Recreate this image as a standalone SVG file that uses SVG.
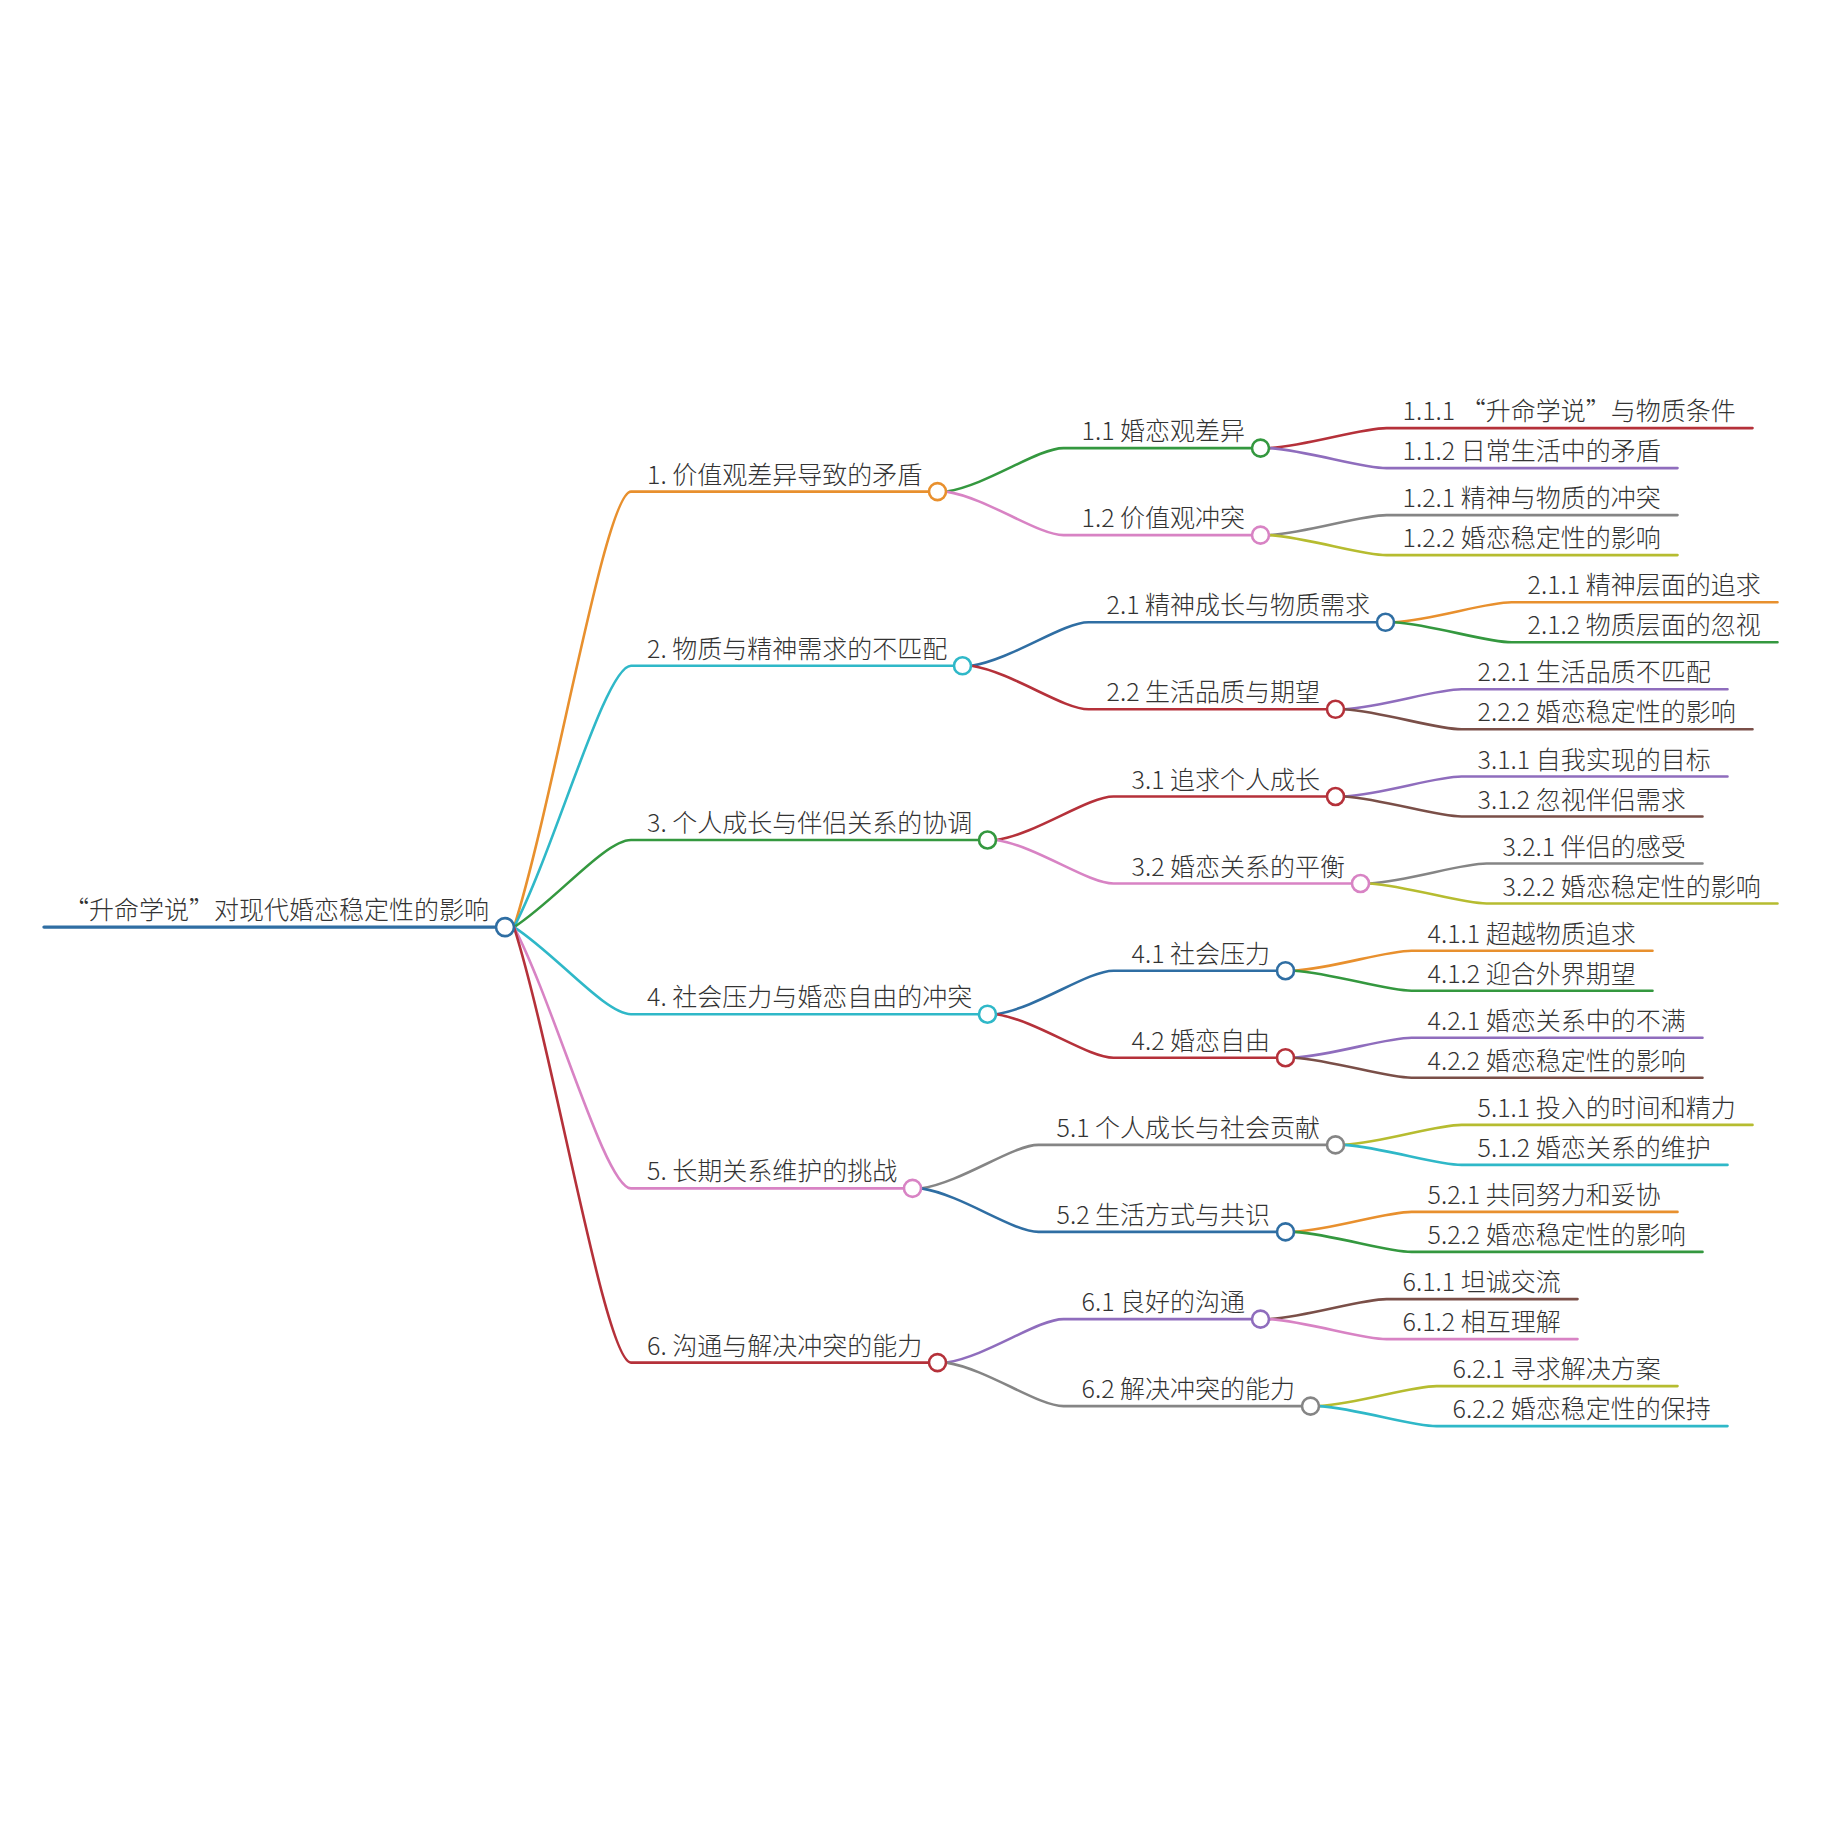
<svg xmlns="http://www.w3.org/2000/svg" width="1824" height="1824" viewBox="0 0 1824 1824">
<style>
text{font-family:"Noto Sans CJK SC","Noto Sans",sans-serif;font-weight:300;font-size:25px;fill:#333333}
.e{fill:none;stroke-width:2.6;stroke-linecap:round}
.n{fill:#ffffff;stroke-width:2.6}
.blue{stroke:#2f6ea3}.orange{stroke:#e8902e}.cyan{stroke:#2fb8c8}.green{stroke:#34983f}
.pink{stroke:#d883c4}.red{stroke:#b5313a}.purple{stroke:#8f6dbd}.gray{stroke:#858585}
.yg{stroke:#b6bc30}.brown{stroke:#7a4f48}
</style>
<rect width="1824" height="1824" fill="#ffffff"/>
<g id="connectors">
<path class="e blue" style="stroke-width:3.4" d="M44,927.1 H505"/>
<path class="e orange" d="M514,927.1 c40.95,-130.65 91.26,-435.5 117,-435.5 H937.5"/>
<path class="e cyan" d="M514,927.1 c40.95,-78.39 91.26,-261.3 117,-261.3 H962.5"/>
<path class="e green" d="M514,927.1 c40.95,-26.13 91.26,-87.1 117,-87.1 H987.5"/>
<path class="e cyan" d="M514,927.1 c40.95,26.13 91.26,87.1 117,87.1 H987.5"/>
<path class="e pink" d="M514,927.1 c40.95,78.39 91.26,261.3 117,261.3 H912.5"/>
<path class="e red" d="M514,927.1 c40.95,130.65 91.26,435.5 117,435.5 H937.5"/>

<path class="e green" d="M946.5,491.6 c40.95,-6.53 91.26,-43.5 117,-43.5 H1260.5"/>
<path class="e pink" d="M946.5,491.6 c40.95,6.53 91.26,43.5 117,43.5 H1260.5"/>
<path class="e blue" d="M971.5,665.8 c40.95,-6.53 91.26,-43.5 117,-43.5 H1385.5"/>
<path class="e red" d="M971.5,665.8 c40.95,6.53 91.26,43.5 117,43.5 H1335.5"/>
<path class="e red" d="M996.5,840 c40.95,-6.53 91.26,-43.5 117,-43.5 H1335.5"/>
<path class="e pink" d="M996.5,840 c40.95,6.53 91.26,43.5 117,43.5 H1360.5"/>
<path class="e blue" d="M996.5,1014.2 c40.95,-6.53 91.26,-43.5 117,-43.5 H1285.5"/>
<path class="e red" d="M996.5,1014.2 c40.95,6.53 91.26,43.5 117,43.5 H1285.5"/>
<path class="e gray" d="M921.5,1188.4 c40.95,-6.53 91.26,-43.5 117,-43.5 H1335.5"/>
<path class="e blue" d="M921.5,1188.4 c40.95,6.53 91.26,43.5 117,43.5 H1285.5"/>
<path class="e purple" d="M946.5,1362.6 c40.95,-6.53 91.26,-43.5 117,-43.5 H1260.5"/>
<path class="e gray" d="M946.5,1362.6 c40.95,6.53 91.26,43.5 117,43.5 H1310.5"/>

<path class="e red" d="M1269.5,448.1 c40.95,-3 91.26,-20 117,-20 H1752.5"/>
<path class="e purple" d="M1269.5,448.1 c40.95,3 91.26,20 117,20 H1677.5"/>
<path class="e gray" d="M1269.5,535.1 c40.95,-3 91.26,-20 117,-20 H1677.5"/>
<path class="e yg" d="M1269.5,535.1 c40.95,3 91.26,20 117,20 H1677.5"/>
<path class="e orange" d="M1394.5,622.3 c40.95,-3 91.26,-20 117,-20 H1777.5"/>
<path class="e green" d="M1394.5,622.3 c40.95,3 91.26,20 117,20 H1777.5"/>
<path class="e purple" d="M1344.5,709.3 c40.95,-3 91.26,-20 117,-20 H1727.5"/>
<path class="e brown" d="M1344.5,709.3 c40.95,3 91.26,20 117,20 H1752.5"/>
<path class="e purple" d="M1344.5,796.5 c40.95,-3 91.26,-20 117,-20 H1727.5"/>
<path class="e brown" d="M1344.5,796.5 c40.95,3 91.26,20 117,20 H1702.5"/>
<path class="e gray" d="M1369.5,883.5 c40.95,-3 91.26,-20 117,-20 H1702.5"/>
<path class="e yg" d="M1369.5,883.5 c40.95,3 91.26,20 117,20 H1777.5"/>
<path class="e orange" d="M1294.5,970.7 c40.95,-3 91.26,-20 117,-20 H1652.5"/>
<path class="e green" d="M1294.5,970.7 c40.95,3 91.26,20 117,20 H1652.5"/>
<path class="e purple" d="M1294.5,1057.7 c40.95,-3 91.26,-20 117,-20 H1702.5"/>
<path class="e brown" d="M1294.5,1057.7 c40.95,3 91.26,20 117,20 H1702.5"/>
<path class="e yg" d="M1344.5,1144.9 c40.95,-3 91.26,-20 117,-20 H1752.5"/>
<path class="e cyan" d="M1344.5,1144.9 c40.95,3 91.26,20 117,20 H1727.5"/>
<path class="e orange" d="M1294.5,1231.9 c40.95,-3 91.26,-20 117,-20 H1677.5"/>
<path class="e green" d="M1294.5,1231.9 c40.95,3 91.26,20 117,20 H1702.5"/>
<path class="e brown" d="M1269.5,1319.1 c40.95,-3 91.26,-20 117,-20 H1577.5"/>
<path class="e pink" d="M1269.5,1319.1 c40.95,3 91.26,20 117,20 H1577.5"/>
<path class="e yg" d="M1319.5,1406.1 c40.95,-3 91.26,-20 117,-20 H1677.5"/>
<path class="e cyan" d="M1319.5,1406.1 c40.95,3 91.26,20 117,20 H1727.5"/>
</g>

<g id="root"><text x="64" y="919.1">“升命学说”对现代婚恋稳定性的影响</text><circle class="n blue" cx="505" cy="927.1" r="9"/></g>

<g id="n1"><text x="647" y="483.6">1. 价值观差异导致的矛盾</text><circle class="n orange" cx="937.5" cy="491.6" r="8.5"/></g>
<g id="n1-1"><text x="1081.5" y="440.1">1.1 婚恋观差异</text><circle class="n green" cx="1260.5" cy="448.1" r="8.5"/></g>
<g id="n1-1-1"><text x="1402.5" y="420.1">1.1.1 “升命学说”与物质条件</text></g>
<g id="n1-1-2"><text x="1402.5" y="460.1">1.1.2 日常生活中的矛盾</text></g>
<g id="n1-2"><text x="1081.5" y="527.1">1.2 价值观冲突</text><circle class="n pink" cx="1260.5" cy="535.1" r="8.5"/></g>
<g id="n1-2-1"><text x="1402.5" y="507.1">1.2.1 精神与物质的冲突</text></g>
<g id="n1-2-2"><text x="1402.5" y="547.1">1.2.2 婚恋稳定性的影响</text></g>

<g id="n2"><text x="647" y="657.8">2. 物质与精神需求的不匹配</text><circle class="n cyan" cx="962.5" cy="665.8" r="8.5"/></g>
<g id="n2-1"><text x="1106.5" y="614.3">2.1 精神成长与物质需求</text><circle class="n blue" cx="1385.5" cy="622.3" r="8.5"/></g>
<g id="n2-1-1"><text x="1527.5" y="594.3">2.1.1 精神层面的追求</text></g>
<g id="n2-1-2"><text x="1527.5" y="634.3">2.1.2 物质层面的忽视</text></g>
<g id="n2-2"><text x="1106.5" y="701.3">2.2 生活品质与期望</text><circle class="n red" cx="1335.5" cy="709.3" r="8.5"/></g>
<g id="n2-2-1"><text x="1477.5" y="681.3">2.2.1 生活品质不匹配</text></g>
<g id="n2-2-2"><text x="1477.5" y="721.3">2.2.2 婚恋稳定性的影响</text></g>

<g id="n3"><text x="647" y="832">3. 个人成长与伴侣关系的协调</text><circle class="n green" cx="987.5" cy="840" r="8.5"/></g>
<g id="n3-1"><text x="1131.5" y="788.5">3.1 追求个人成长</text><circle class="n red" cx="1335.5" cy="796.5" r="8.5"/></g>
<g id="n3-1-1"><text x="1477.5" y="768.5">3.1.1 自我实现的目标</text></g>
<g id="n3-1-2"><text x="1477.5" y="808.5">3.1.2 忽视伴侣需求</text></g>
<g id="n3-2"><text x="1131.5" y="875.5">3.2 婚恋关系的平衡</text><circle class="n pink" cx="1360.5" cy="883.5" r="8.5"/></g>
<g id="n3-2-1"><text x="1502.5" y="855.5">3.2.1 伴侣的感受</text></g>
<g id="n3-2-2"><text x="1502.5" y="895.5">3.2.2 婚恋稳定性的影响</text></g>

<g id="n4"><text x="647" y="1006.2">4. 社会压力与婚恋自由的冲突</text><circle class="n cyan" cx="987.5" cy="1014.2" r="8.5"/></g>
<g id="n4-1"><text x="1131.5" y="962.7">4.1 社会压力</text><circle class="n blue" cx="1285.5" cy="970.7" r="8.5"/></g>
<g id="n4-1-1"><text x="1427.5" y="942.7">4.1.1 超越物质追求</text></g>
<g id="n4-1-2"><text x="1427.5" y="982.7">4.1.2 迎合外界期望</text></g>
<g id="n4-2"><text x="1131.5" y="1049.7">4.2 婚恋自由</text><circle class="n red" cx="1285.5" cy="1057.7" r="8.5"/></g>
<g id="n4-2-1"><text x="1427.5" y="1029.7">4.2.1 婚恋关系中的不满</text></g>
<g id="n4-2-2"><text x="1427.5" y="1069.7">4.2.2 婚恋稳定性的影响</text></g>

<g id="n5"><text x="647" y="1180.4">5. 长期关系维护的挑战</text><circle class="n pink" cx="912.5" cy="1188.4" r="8.5"/></g>
<g id="n5-1"><text x="1056.5" y="1136.9">5.1 个人成长与社会贡献</text><circle class="n gray" cx="1335.5" cy="1144.9" r="8.5"/></g>
<g id="n5-1-1"><text x="1477.5" y="1116.9">5.1.1 投入的时间和精力</text></g>
<g id="n5-1-2"><text x="1477.5" y="1156.9">5.1.2 婚恋关系的维护</text></g>
<g id="n5-2"><text x="1056.5" y="1223.9">5.2 生活方式与共识</text><circle class="n blue" cx="1285.5" cy="1231.9" r="8.5"/></g>
<g id="n5-2-1"><text x="1427.5" y="1203.9">5.2.1 共同努力和妥协</text></g>
<g id="n5-2-2"><text x="1427.5" y="1243.9">5.2.2 婚恋稳定性的影响</text></g>

<g id="n6"><text x="647" y="1354.6">6. 沟通与解决冲突的能力</text><circle class="n red" cx="937.5" cy="1362.6" r="8.5"/></g>
<g id="n6-1"><text x="1081.5" y="1311.1">6.1 良好的沟通</text><circle class="n purple" cx="1260.5" cy="1319.1" r="8.5"/></g>
<g id="n6-1-1"><text x="1402.5" y="1291.1">6.1.1 坦诚交流</text></g>
<g id="n6-1-2"><text x="1402.5" y="1331.1">6.1.2 相互理解</text></g>
<g id="n6-2"><text x="1081.5" y="1398.1">6.2 解决冲突的能力</text><circle class="n gray" cx="1310.5" cy="1406.1" r="8.5"/></g>
<g id="n6-2-1"><text x="1452.5" y="1378.1">6.2.1 寻求解决方案</text></g>
<g id="n6-2-2"><text x="1452.5" y="1418.1">6.2.2 婚恋稳定性的保持</text></g>
</svg>
